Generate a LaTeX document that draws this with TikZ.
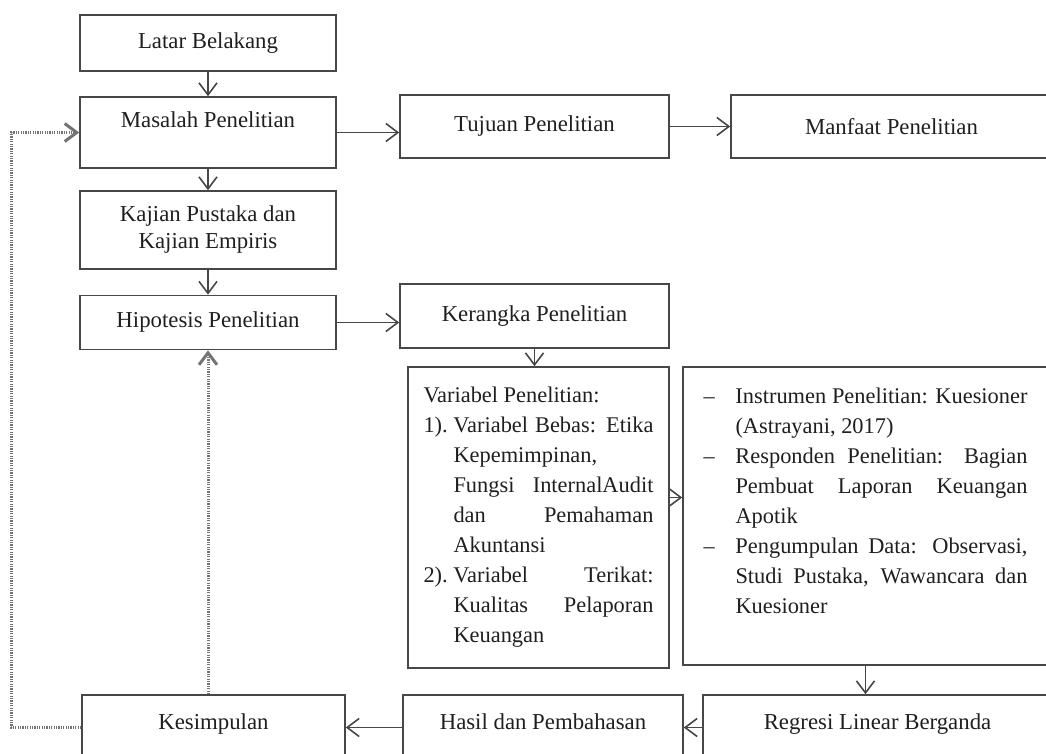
\documentclass[tikz,border=0pt]{standalone}
\usepackage{fontspec}
\setmainfont{Liberation Serif}
\usepackage{tikz}
\usetikzlibrary{arrows.meta,positioning}

\newcommand{\hangitem}[3]{\par\hangindent=#1\hangafter=1\noindent\makebox[#1][l]{#2}#3\par}
\hbadness=10000
\hfuzz=3pt
\hyphenpenalty=10000
\exhyphenpenalty=10000

\begin{document}
\begin{tikzpicture}[x=0.5pt, y=-0.5pt,
    box/.style={rectangle, draw=black!72, line width=0.8pt, align=center, inner sep=0pt, text=black!88, font=\fontsize{11.4}{13.5}\selectfont},
    arrow/.style={-{Straight Barb[length=6pt,width=9pt]}, draw=black!72, line width=0.8pt},
    back/.style={-{Straight Barb[length=6pt,width=9pt]}, draw=black!55, line width=1.5pt, dash pattern=on 0.6pt off 0.6pt}
]
    \useasboundingbox (0,0) rectangle (1046,754);
    \clip (0,0) rectangle (1046,754);

    \node[box, minimum width=128pt, minimum height=28pt] (latar) at (208,43) {Latar Belakang};
    \node[box, minimum width=128pt, minimum height=35.5pt, text height=8pt, text depth=12.5pt] (masalah) at (208,132.5) {Masalah Penelitian};
    \node[box, minimum width=134.5pt, minimum height=31.5pt] (tujuan) at (534.5,126.5) {Tujuan Penelitian};
    \node[box, minimum width=160.5pt, minimum height=31.5pt] (manfaat) at (891.5,126.5) {Manfaat Penelitian};
    \node[box, minimum width=128pt, minimum height=39pt] (kajian) at (208,230) {Kajian Pustaka dan\\Kajian Empiris};
    \node[box, minimum width=128pt, minimum height=27pt] (hipotesis) at (208,322.5) {Hipotesis Penelitian};
    \node[box, minimum width=134.5pt, minimum height=32pt] (kerangka) at (534.5,316) {Kerangka Penelitian};

    \node[box, minimum width=130.5pt, minimum height=150.5pt] (variabel) at (538.5,517.5) {\parbox{115pt}{\fontsize{11.2}{15}\selectfont
        Variabel Penelitian:\par
        \hangitem{15pt}{1).}{Variabel Bebas: Etika\linebreak Kepemimpinan,\\ Fungsi InternalAudit\linebreak dan Pemahaman\linebreak Akuntansi}
        \hangitem{15pt}{2).}{Variabel Terikat:\linebreak Kualitas Pelaporan\linebreak Keuangan}}};
    \node[box, minimum width=182.5pt, minimum height=149pt] (instrumen) at (865.5,516) {\parbox[c][128pt][t]{162pt}{\fontsize{11.2}{15}\selectfont
        \hangitem{16pt}{\textendash}{Instrumen Penelitian: Kuesioner\linebreak (Astrayani, 2017)}
        \hangitem{16pt}{\textendash}{Responden Penelitian: Bagian\linebreak Pembuat Laporan Keuangan\linebreak Apotik}
        \hangitem{16pt}{\textendash}{Pengumpulan Data: Observasi,\linebreak Studi Pustaka, Wawancara dan\linebreak Kuesioner}}};

    \node[box, minimum width=131.5pt, minimum height=32.5pt, text height=8pt, text depth=6.5pt] (kesimpulan) at (213.5,727.5) {Kesimpulan};
    \node[box, minimum width=140pt, minimum height=32.5pt, text height=8pt, text depth=6.5pt] (hasil) at (543,727.5) {Hasil dan Pembahasan};
    \node[box, minimum width=174.5pt, minimum height=32.5pt, text height=8pt, text depth=6.5pt] (regresi) at (877.5,727.5) {Regresi Linear Berganda};

    \draw[arrow] (latar) -- (masalah);
    \draw[arrow] (masalah) -- (kajian);
    \draw[arrow] (kajian) -- (hipotesis);
    \draw[arrow] (masalah.east) -- (masalah.east -| tujuan.west);
    \draw[arrow] (tujuan) -- (manfaat);
    \draw[arrow] (hipotesis.east) -- (hipotesis.east -| kerangka.west);
    \draw[arrow] (kerangka.south) -- (kerangka.south |- variabel.north);
    \draw[arrow] ([yshift=10pt]variabel.east) -- ([yshift=10pt]variabel.east -| instrumen.west);
    \draw[arrow] (instrumen.south) -- (instrumen.south |- regresi.north);
    \draw[arrow] (regresi) -- (hasil);
    \draw[arrow] (hasil) -- (kesimpulan);

    % jalur kembali (garis titik-titik)
    \draw[back] (hipotesis.south |- kesimpulan.north) -- (hipotesis.south);
    \draw[back] (kesimpulan.west) -- ++(-70,0) |- (masalah.west);
\end{tikzpicture}
\end{document}
